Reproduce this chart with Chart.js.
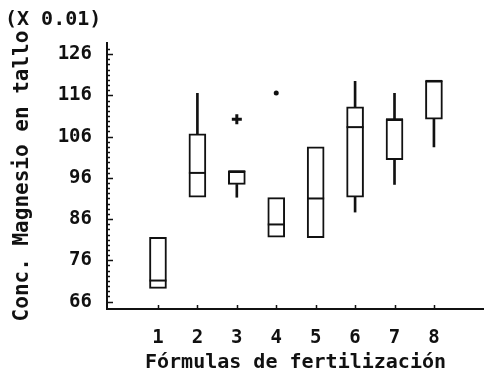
<!DOCTYPE html>
<html>
<head>
<meta charset="utf-8">
<script src="https://cdn.jsdelivr.net/npm/chart.js@4"></script>
<style>
  html, body { margin: 0; padding: 0; background: #fff; }
  #wrap { width: 484px; height: 376px; }
</style>
</head>
<body>
<div id="wrap"><canvas id="boxChart"></canvas></div>
<script>
// Data (x 0.01)
const formulas = [1, 2, 3, 4, 5, 6, 7, 8];
const q1 = [69.2, 91.3, 94.4, 81.6, 81.5, 91.3, 100.4, 110.2];
const q3 = [81.6, 106.7, 97.6, 91.2, 103.5, 113.2, 110.2, 119.5];
const medians = [71.1, 97.2, 97.6, 84.7, 91.0, 108.3, 110.2, 119.5];
const whiskerLow = [null, null, 91.3, null, null, 87.7, 94.4, 103.5];
const whiskerHigh = [null, 116.5, null, null, null, 119.4, 116.5, null];
const plusOutliers = [{ x: 3, y: 110.2 }];
const dotOutliers = [{ x: 4, y: 116.6 }];
const yTickValues = [66, 76, 86, 96, 106, 116, 126];

const ink = "#111";
const monoFont = "'DejaVu Sans Mono', 'Liberation Mono', monospace";

// Build datasets
let boxes = [], lows = [], highs = [], meds = [];
for (let i = 0; i < formulas.length; i++) {
  boxes.push({ x: formulas[i], y: [q1[i], q3[i]] });
  meds.push({ x: formulas[i], y: medians[i] });
  if (whiskerLow[i] !== null) lows.push({ x: formulas[i], y: [whiskerLow[i], q1[i]] });
  if (whiskerHigh[i] !== null) highs.push({ x: formulas[i], y: [q3[i], whiskerHigh[i]] });
}

// Inward tick marks like the original plot
const innerTicks = {
  id: "innerTicks",
  afterDraw(chart) {
    const ctx = chart.ctx;
    const xs = chart.scales.x, ys = chart.scales.y;
    const left = chart.chartArea.left, bottom = chart.chartArea.bottom;
    ctx.save();
    ctx.strokeStyle = ink;
    ctx.lineWidth = 1.5;
    ctx.beginPath();
    for (let v = 66; v <= 128; v += 1.25) {
      const y = Math.round(ys.getPixelForValue(v)) + 0.5;
      const len = (v - 66) % 10 === 0 ? 6 : 3;
      ctx.moveTo(left, y);
      ctx.lineTo(left + len, y);
    }
    for (let c of formulas) {
      const x = Math.round(xs.getPixelForValue(c)) + 0.5;
      ctx.moveTo(x, bottom);
      ctx.lineTo(x, bottom - 4);
    }
    ctx.stroke();
    // caption for scale factor
    ctx.fillStyle = ink;
    ctx.font = "bold 20px " + monoFont;
    ctx.textBaseline = "middle";
    ctx.textAlign = "left";
    ctx.fillText("(X 0.01)", 5, 20);
    ctx.restore();
  }
};

const ctx = document.getElementById("boxChart");

new Chart(ctx, {
  type: "bar",
  data: {
    datasets: [
      {
        label: "bigote sup",
        data: highs,
        backgroundColor: ink,
        borderWidth: 0,
        barThickness: 2,
        grouped: false,
        order: 3,
      },
      {
        label: "bigote inf",
        data: lows,
        backgroundColor: ink,
        borderWidth: 0,
        barThickness: 2,
        grouped: false,
        order: 3,
      },
      {
        label: "caja",
        data: boxes,
        backgroundColor: "#fff",
        borderColor: ink,
        borderWidth: 2,
        borderSkipped: false,
        barThickness: 17,
        grouped: false,
        order: 2,
      },
      {
        type: "scatter",
        label: "mediana",
        data: meds,
        pointStyle: "line",
        radius: 8.5,
        borderColor: ink,
        borderWidth: 2,
        order: 1,
      },
      {
        type: "scatter",
        label: "atipico +",
        data: plusOutliers,
        pointStyle: "cross",
        radius: 5,
        borderColor: ink,
        borderWidth: 3,
        order: 1,
      },
      {
        type: "scatter",
        label: "atipico",
        data: dotOutliers,
        pointStyle: "circle",
        radius: 2.5,
        backgroundColor: ink,
        borderColor: ink,
        borderWidth: 0,
        order: 1,
      },
    ],
  },
  options: {
    responsive: true,
    maintainAspectRatio: false,
    animation: false,
    events: [],
    layout: { autoPadding: false, padding: { left: 10, top: 43, right: 0, bottom: 1 } },
    plugins: {
      legend: { display: false },
      tooltip: { enabled: false },
    },
    scales: {
      x: {
        type: "linear",
        offset: false,
        min: -0.293,
        max: 9.27,
        afterBuildTicks: (scale) => {
          scale.ticks = formulas.map((v) => ({ value: v }));
        },
        afterFit: (scale) => {
          scale.height = 66;
          scale.paddingLeft = 0;
          scale.paddingRight = 0;
        },
        grid: { display: false, drawTicks: false, offset: false },
        border: { display: true, color: ink, width: 2 },
        ticks: {
          color: ink,
          padding: 18,
          font: { family: monoFont, size: 19, weight: "bold" },
        },
        title: {
          display: true,
          text: "Fórmulas de fertilización",
          color: ink,
          padding: 0,
          font: { family: monoFont, size: 20, weight: "bold" },
        },
      },
      y: {
        min: 64.2,
        max: 128.7,
        afterBuildTicks: (scale) => {
          scale.ticks = yTickValues.map((v) => ({ value: v }));
        },
        afterFit: (scale) => { scale.width = 97; },
        grid: { display: false, drawTicks: false },
        border: { display: true, color: ink, width: 2 },
        ticks: {
          color: ink,
          padding: 15,
          font: { family: monoFont, size: 19, weight: "bold" },
        },
        title: {
          display: true,
          text: "Conc. Magnesio en tallo",
          color: ink,
          padding: 0,
          font: { family: monoFont, size: 21, weight: "bold" },
        },
      },
    },
  },
  plugins: [innerTicks],
});
</script>
</body>
</html>
